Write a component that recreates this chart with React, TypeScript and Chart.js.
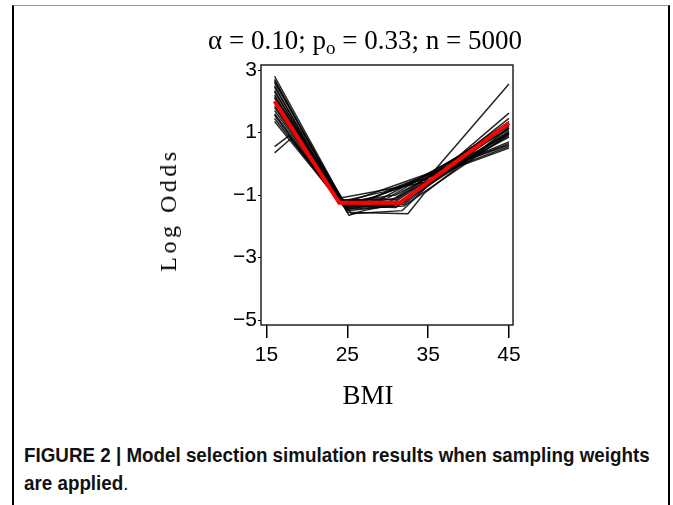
import React, { useEffect, useRef } from "react";
import { Chart, registerables } from "chart.js";

Chart.register(...registerables);

// ---- data ----
const X_TICKS = [15, 25, 35, 45];
const Y_TICKS = [3, 1, -1, -3, -5];
const X_MIN = 14.32;
const X_MAX = 45.5;
const Y_MIN = -5.16;
const Y_MAX = 3.16;

// fitted (red) spline knots
const fitted: [number, number][] = [[16, 2.0], [24, -1.25], [31.5, -1.25], [45, 1.3]];

// simulated fits (black)
const sim01: [number, number][] = [[16, 2.8], [24.8, -1.35], [31.5, -1.3], [45, 1.0]];
const sim02: [number, number][] = [[16, 2.6], [24.5, -1.2], [30, -1.1], [45, 1.2]];
const sim03: [number, number][] = [[16, 2.45], [25, -1.45], [32, -1.35], [45, 0.95]];
const sim04: [number, number][] = [[16, 2.3], [24.5, -1.3], [29, -1.15], [45, 1.1]];
const sim05: [number, number][] = [[16, 2.2], [24, -1.15], [31, -1.15], [45, 1.35]];
const sim06: [number, number][] = [[16, 2.1], [25.5, -1.6], [31.8, -1.5], [36, -0.45], [45, 1.05]];
const sim07: [number, number][] = [[16, 1.95], [24.5, -1.25], [27, -1.05], [45, 0.6]];
const sim08: [number, number][] = [[16, 1.85], [25, -1.4], [28, -1.1], [45, 0.5]];
const sim09: [number, number][] = [[16, 1.7], [24, -1.1], [34.5, -0.6], [45, 2.55]];
const sim10: [number, number][] = [[16, 1.6], [24.5, -1.3], [32, -1.25], [45, 1.62]];
const sim11: [number, number][] = [[16, 1.45], [25, -1.5], [30.5, -1.35], [45, 0.9]];
const sim12: [number, number][] = [[16, 1.35], [24.5, -1.35], [27.5, -1.15], [45, 0.7]];
const sim13: [number, number][] = [[16, 2.7], [25.2, -1.65], [27, -1.5], [31, -1.3], [45, 1.0]];
const sim14: [number, number][] = [[16, 0.55], [17.8, 0.9], [24.5, -1.3], [31, -1.2], [45, 1.15]];
const sim15: [number, number][] = [[16, 0.35], [18, 0.8], [25, -1.4], [32, -1.3], [45, 1.25]];
const sim16: [number, number][] = [[16, 2.5], [24, -1.2], [26, -1.3], [31, -1.1], [45, 0.85]];
const sim17: [number, number][] = [[16, 2.0], [25, -1.45], [30, -1.25], [45, 1.3]];
const sim18: [number, number][] = [[16, 1.8], [24.5, -1.3], [28.5, -1.05], [45, 0.55]];
const sim19: [number, number][] = [[16, 2.35], [25, -1.55], [32.5, -1.6], [34.5, -0.95], [45, 1.15]];
const sim20: [number, number][] = [[16, 1.55], [24, -1.25], [31, -1.0], [45, 0.95]];
const sim21: [number, number][] = [[16, 2.65], [24.3, -1.2], [29.5, -0.9], [45, 0.65]];
const sim22: [number, number][] = [[16, 2.15], [25, -1.35], [31, -1.4], [45, 1.45]];

const simulations = [sim01, sim02, sim03, sim04, sim05, sim06, sim07, sim08, sim09, sim10,
  sim11, sim12, sim13, sim14, sim15, sim16, sim17, sim18, sim19, sim20, sim21, sim22];

const TITLE_MAIN = "\u03b1 = 0.10; p";
const TITLE_SUB = "o";
const TITLE_REST = " = 0.33; n = 5000";
const Y_LABEL = "Log Odds";
const X_LABEL = "BMI";
const CAPTION_LINE1 = "FIGURE 2 | Model selection simulation results when sampling weights";
const CAPTION_LINE2 = "are applied";

const toXY = (pts: [number, number][]) => pts.map(([x, y]) => ({ x, y }));

const framePlugin = {
  id: "frame",
  afterDatasetsDraw(chart: any) {
    const { ctx, chartArea } = chart;
    ctx.save();
    ctx.strokeStyle = "#222";
    ctx.lineWidth = 1.5;
    ctx.strokeRect(chartArea.left, chartArea.top, chartArea.right - chartArea.left, chartArea.bottom - chartArea.top);
    ctx.restore();
  },
};

export default function App() {
  const ref = useRef<HTMLCanvasElement | null>(null);

  useEffect(() => {
    if (!ref.current) return;
    const tickFont = { family: "'Liberation Sans', Arial, sans-serif", size: 21 };
    const datasets: any[] = [
      {
        data: toXY(fitted),
        borderColor: "#ff0000",
        borderWidth: 4,
        pointRadius: 0,
        tension: 0,
        order: 0,
      },
      ...simulations.map((s) => ({
        data: toXY(s),
        borderColor: "rgba(0,0,0,0.85)",
        borderWidth: 1.5,
        pointRadius: 0,
        tension: 0,
        order: 1,
      })),
    ];
    const chart = new Chart(ref.current, {
      type: "line",
      data: { datasets },
      options: {
        animation: false,
        responsive: false,
        maintainAspectRatio: false,
        layout: { padding: { left: 150, top: 65, right: 160, bottom: 0 } },
        plugins: {
          legend: { display: false },
          tooltip: { enabled: false },
          title: { display: false },
        },
        scales: {
          x: {
            type: "linear",
            min: X_MIN,
            max: X_MAX,
            afterFit: (s: any) => { s.height = 95; },
            afterBuildTicks: (s: any) => { s.ticks = X_TICKS.map((v) => ({ value: v })); },
            grid: { display: true, drawOnChartArea: false, drawTicks: true, tickLength: 13, color: "#000", lineWidth: 1.5 },
            border: { display: false },
            ticks: { font: tickFont, color: "#000", padding: 5, maxRotation: 0, autoSkip: false },
          },
          y: {
            type: "linear",
            min: Y_MIN,
            max: Y_MAX,
            afterFit: (s: any) => { s.width = 111; },
            afterBuildTicks: (s: any) => { s.ticks = Y_TICKS.map((v) => ({ value: v })); },
            grid: { display: true, drawOnChartArea: false, drawTicks: true, tickLength: 3, color: "#000", lineWidth: 1 },
            border: { display: false },
            ticks: {
              font: tickFont,
              color: "#000",
              padding: 1,
              autoSkip: false,
              callback: (v: any) => String(v).replace("-", "\u2212"),
            },
          },
        },
      },
      plugins: [framePlugin],
    });
    return () => chart.destroy();
  }, []);

  const serif = "'Liberation Serif', 'Times New Roman', serif";
  const captionStyle: React.CSSProperties = {
    position: "absolute",
    left: 24,
    whiteSpace: "nowrap",
    transform: "scaleX(0.895)",
    transformOrigin: "left center",
    fontFamily: "'Liberation Sans', Arial, sans-serif",
    fontWeight: "bold",
    fontSize: 21,
    lineHeight: "28px",
    color: "#111",
  };
  return (
    <div style={{ position: "absolute", left: 0, top: 0, width: 673, height: 505, background: "#fff", overflow: "hidden" }}>
      <div style={{ position: "absolute", left: 12, top: 5, width: 658, height: 500, boxSizing: "border-box", borderLeft: "2px solid #000", borderRight: "2px solid #000", borderTop: "1px solid #999" }} />
      <canvas ref={ref} width={673} height={420} style={{ position: "absolute", left: 0, top: 0, width: 673, height: 420 }} />
      <div style={{ position: "absolute", left: 365, top: 24, transform: "translateX(-50%)", whiteSpace: "nowrap", fontFamily: serif, fontSize: 27, lineHeight: "32px", color: "#000" }}>
        {TITLE_MAIN}
        <span style={{ fontSize: 19, position: "relative", top: 5 }}>{TITLE_SUB}</span>
        {TITLE_REST}
      </div>
      <div style={{ position: "absolute", left: 168, top: 210, transform: "translate(-50%, -50%) rotate(-90deg)", whiteSpace: "nowrap", fontFamily: serif, fontSize: 24, letterSpacing: 3.5, lineHeight: "28px", color: "#000" }}>
        {Y_LABEL}
      </div>
      <div style={{ position: "absolute", left: 368, top: 395, transform: "translate(-50%, -50%)", whiteSpace: "nowrap", fontFamily: serif, fontSize: 27, lineHeight: "30px", color: "#000" }}>
        {X_LABEL}
      </div>
      <div style={{ ...captionStyle, top: 441 }}>{CAPTION_LINE1}</div>
      <div style={{ ...captionStyle, top: 469 }}>
        {CAPTION_LINE2}<span style={{ fontWeight: "normal" }}>.</span>
      </div>
    </div>
  );
}
